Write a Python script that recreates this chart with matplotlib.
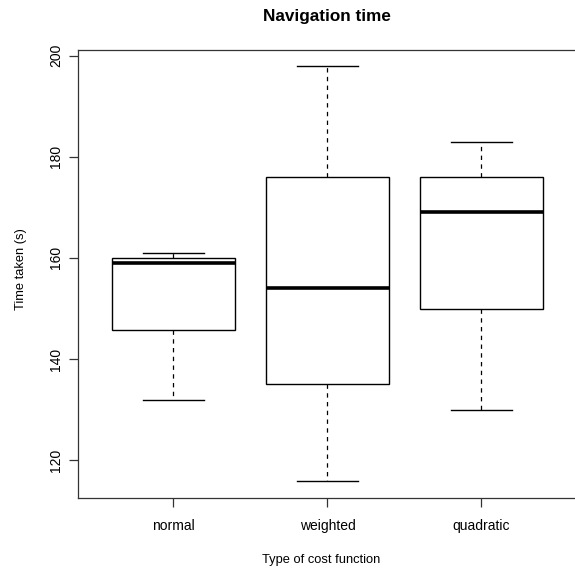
import matplotlib
matplotlib.use("Agg")
import matplotlib.pyplot as plt
from matplotlib.patches import Rectangle

categories = ["normal", "weighted", "quadratic"]
whisker_low = [132, 116, 130]
q1 = [145.7, 135, 150]
median = [159, 154, 169]
q3 = [160, 176, 176]
whisker_high = [161, 198, 183]
yticks = [120, 140, 160, 180, 200]

plt.rcParams["font.family"] = ["Liberation Sans", "DejaVu Sans"]

W, H = 575, 569
fig = plt.figure(figsize=(W / 100, H / 100), dpi=100)
left, right, bottom, top = 78, 576.8, 497.7, 50
ax = fig.add_axes([left / W, (H - bottom) / H, (right - left) / W, (bottom - top) / H])

bw = 0.4
cap = 0.2
for i, name in enumerate(categories):
    x = i + 1
    ax.add_patch(Rectangle((x - bw, q1[i]), 2 * bw, q3[i] - q1[i], fill=False,
                           edgecolor="black", linewidth=1.0))
    ax.plot([x - bw, x + bw], [median[i], median[i]], color="black", linewidth=2.6,
            solid_capstyle="butt")
    ax.plot([x, x], [q3[i], whisker_high[i]], color="black", linewidth=0.9,
            linestyle=(0, (3.5, 3.5)))
    ax.plot([x, x], [q1[i], whisker_low[i]], color="black", linewidth=0.9,
            linestyle=(0, (3.5, 3.5)))
    ax.plot([x - cap, x + cap], [whisker_high[i]] * 2, color="black", linewidth=1.0)
    ax.plot([x - cap, x + cap], [whisker_low[i]] * 2, color="black", linewidth=1.0)

ax.set_xlim(0.38, 3.62)
ax.set_ylim(112.6, 201.1)
ax.set_xticks([1, 2, 3])
ax.set_xticklabels(categories, fontsize=10)
ax.set_yticks(yticks)
ax.set_yticklabels([str(v) for v in yticks], fontsize=10, rotation=90, va="center")
ax.tick_params(axis="both", length=6.2, width=0.9, color="#333333")
ax.tick_params(axis="y", pad=4.5)
ax.tick_params(axis="x", pad=9)
for s in ax.spines.values():
    s.set_linewidth(0.9)
    s.set_color("#333333")

fig.text(327 / W, 1 - 16 / H, "Navigation time", fontsize=12.3, fontweight="bold",
         ha="center", va="center")
fig.text(321.5 / W, 1 - 560 / H, "Type of cost function", fontsize=9.3, ha="center", va="center")
fig.text(21 / W, 1 - 269 / H, "Time taken (s)", fontsize=9.3, ha="center", va="center",
         rotation=90)

fig.savefig("out.png", dpi=100)
